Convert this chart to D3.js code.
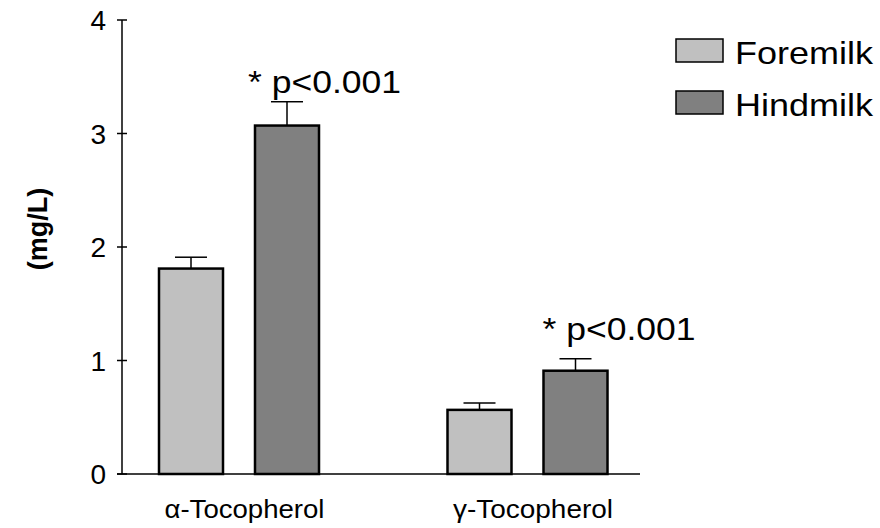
<!DOCTYPE html>
<html><head><meta charset="utf-8">
<script src="https://cdn.jsdelivr.net/npm/d3@7"></script>
<style>body{margin:0;background:#fff}svg{display:block;font-family:Arial,"Liberation Sans",sans-serif}</style>
</head><body><svg id="c" width="880" height="528"></svg>
<script>
const categories = ["α-Tocopherol", "γ-Tocopherol"];
const seriesNames = ["Foremilk", "Hindmilk"];
const foremilk = [1.81, 0.565];
const hindmilk = [3.07, 0.91];
const foremilkErr = [0.10, 0.06];
const hindmilkErr = [0.21, 0.105];
const yTicks = [0, 1, 2, 3, 4];
const annotations = ["* p<0.001", "* p<0.001"];
const annotationAt = [3.36, 1.18];
const colors = ["#c0c0c0", "#808080"];

const svg = d3.select("#c");
const y = d3.scaleLinear().domain([0, 4]).range([474, 20]);
const x0 = d3.scaleBand().domain(categories).range([94.25, 671.25]).padding(0);
const x1 = d3.scaleBand().domain(seriesNames).range([64.75, 224.75]).paddingInner(1/3).paddingOuter(0);

const data = categories.map((c, i) => ({
  cat: c,
  vals: [
    {s: "Foremilk", v: foremilk[i], e: foremilkErr[i]},
    {s: "Hindmilk", v: hindmilk[i], e: hindmilkErr[i]}
  ]
}));

// axes
const axisX = 122;
svg.append("line").attr("x1", axisX).attr("x2", axisX).attr("y1", y(4)).attr("y2", y(0))
  .attr("stroke", "#000").attr("stroke-width", 1.5);
svg.append("line").attr("x1", 117).attr("x2", 640).attr("y1", y(0)).attr("y2", y(0))
  .attr("stroke", "#000").attr("stroke-width", 1.5);
const tg = svg.append("g").selectAll("g").data(yTicks).join("g");
tg.append("line").attr("x1", axisX - 5).attr("x2", axisX + 5)
  .attr("y1", d => y(d)).attr("y2", d => y(d)).attr("stroke", "#000").attr("stroke-width", 1.5);
tg.append("text").attr("x", 106).attr("y", d => y(d)).attr("dy", "0.36em")
  .attr("text-anchor", "end").attr("font-size", 28).text(d => d);

svg.append("text").attr("transform", "translate(47,229) rotate(-90)")
  .attr("text-anchor", "middle").attr("font-size", 27).attr("font-weight", "bold").text("(mg/L)");

// bars
const groups = svg.append("g").selectAll("g").data(data).join("g")
  .attr("transform", d => `translate(${x0(d.cat)},0)`);
const bar = groups.selectAll("g").data(d => d.vals).join("g");
bar.append("rect")
  .attr("x", d => x1(d.s)).attr("width", x1.bandwidth())
  .attr("y", d => y(d.v)).attr("height", d => y(0) - y(d.v))
  .attr("fill", (d, i) => colors[i]).attr("stroke", "#000").attr("stroke-width", 2.5);
bar.append("line")
  .attr("x1", d => x1(d.s) + x1.bandwidth() / 2).attr("x2", d => x1(d.s) + x1.bandwidth() / 2)
  .attr("y1", d => y(d.v)).attr("y2", d => y(d.v + d.e)).attr("stroke", "#000").attr("stroke-width", 1.5);
bar.append("line")
  .attr("x1", d => x1(d.s) + x1.bandwidth() / 4).attr("x2", d => x1(d.s) + x1.bandwidth() * 3 / 4)
  .attr("y1", d => y(d.v + d.e)).attr("y2", d => y(d.v + d.e)).attr("stroke", "#000").attr("stroke-width", 1.5);

// annotations
groups.append("text")
  .attr("x", (d, i) => x1("Hindmilk") - 7 + i * 6).attr("y", (d, i) => y(annotationAt[i]))
  .attr("font-size", 31).attr("textLength", 153).attr("lengthAdjust", "spacingAndGlyphs")
  .text((d, i) => annotations[i]);

// category labels
svg.append("g").selectAll("text").data(categories).join("text")
  .attr("x", d => x0(d) + x0.bandwidth() / 2 + 6).attr("y", 518)
  .attr("text-anchor", "middle").attr("font-size", 26).attr("textLength", 160)
  .attr("lengthAdjust", "spacingAndGlyphs").text(d => d);

// legend
const lg = svg.append("g").selectAll("g").data(seriesNames).join("g")
  .attr("transform", (d, i) => `translate(676,${39 + i * 52})`);
lg.append("rect").attr("width", 47).attr("height", 23)
  .attr("fill", (d, i) => colors[i]).attr("stroke", "#000").attr("stroke-width", 1.5);
lg.append("text").attr("x", 59).attr("y", 25).attr("font-size", 32)
  .attr("textLength", 138).attr("lengthAdjust", "spacingAndGlyphs").text(d => d);
</script></body></html>
